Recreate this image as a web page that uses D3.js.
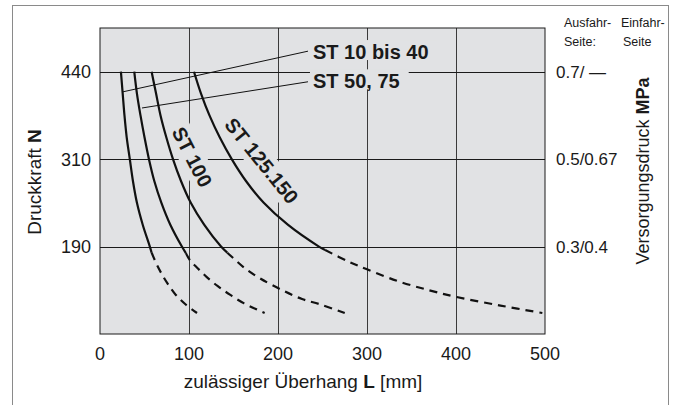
<!DOCTYPE html>
<html><head><meta charset="utf-8">
<script src="https://cdn.jsdelivr.net/npm/d3@7"></script>
<style>
html,body{margin:0;padding:0;background:#fff;}
text{font-family:"Liberation Sans",Arial,Helvetica,sans-serif;fill:#1a1a1a;}
</style></head>
<body><svg id="c" width="677" height="405"></svg>
<script>
// ---- data ----
const xTicks = [0, 100, 200, 300, 400, 500];
const pressureLevels = [0.7, 0.5, 0.3];           // Ausfahr-Seite MPa (grid rows)
const forceLabels = ["440", "310", "190"];         // Druckkraft N
const pressureLabels = ["0.7/ \u2014", "0.5/0.67", "0.3/0.4"];
const seriesNames = ["ST 10 bis 40", "ST 50, 75", "ST 100", "ST 125.150"];

// [L mm, pressure MPa]
const st10_40_solid  = [[23.5,0.7],[25.5,0.65],[27.5,0.6],[30,0.55],[33.5,0.5],[37,0.45],[41.5,0.4],[48,0.35],[56,0.3],[58,0.286]];
const st10_40_dashed = [[58,0.286],[64,0.258],[70,0.235],[76,0.215],[85,0.19],[96,0.168],[109,0.148]];
const st50_75_solid  = [[38.5,0.7],[41.5,0.65],[45.5,0.6],[50,0.55],[55,0.5],[61,0.45],[69,0.4],[79,0.35],[92,0.3],[96.5,0.285]];
const st50_75_dashed = [[96.5,0.285],[101,0.269],[110,0.25],[120,0.23],[132,0.21],[146,0.19],[162,0.17],[185,0.148]];
const st100_solid    = [[58,0.7],[63,0.65],[68,0.6],[74.5,0.55],[82,0.5],[91,0.45],[102,0.4],[117,0.35],[136,0.3],[143,0.286]];
const st100_dashed   = [[143,0.286],[149,0.275],[163,0.25],[180,0.227],[205,0.2],[227,0.18],[247,0.168],[275,0.148]];
const st125_solid    = [[105.6,0.7],[113.5,0.65],[123,0.6],[134.5,0.55],[148,0.5],[164,0.45],[184,0.4],[211,0.35],[246,0.3],[253,0.292]];
const st125_dashed   = [[253,0.292],[280,0.265],[300,0.248],[336,0.22],[370,0.2],[400,0.185],[450,0.165],[497,0.148]];

// annotation leaders [from, to] and label anchors, in data units
const leader10_40 = [[25.8,0.654],[233.7,0.747]];
const leader50_75 = [[47.2,0.617],[233.7,0.677]];
const sideLabelPos = [[239.3,0.729],[239.3,0.662]];
const curveLabelPos = [[103.4,0.505,63],[181.5,0.496,51]];

// ---- chart ----
const svg = d3.select("#c");
const x = d3.scaleLinear().domain([0,500]).range([100,545]);
const y = d3.scaleLinear().domain([0.1,0.8]).range([334,28]);
const BG = "#e1e2e4";

svg.append("rect").attr("x",12.5).attr("y",5.5).attr("width",656).attr("height",430)
  .attr("fill","#fff").attr("stroke","#8a8a8a").attr("stroke-width",1);

svg.append("rect").attr("x",x(0)).attr("y",y(0.8)).attr("width",x(500)-x(0)).attr("height",y(0.1)-y(0.8))
  .attr("fill",BG);

// grid
svg.append("g").selectAll("line").data(xTicks.slice(1,-1)).join("line")
  .attr("x1",d=>Math.round(x(d))+0.5).attr("x2",d=>Math.round(x(d))+0.5)
  .attr("y1",y(0.8)).attr("y2",y(0.1)).attr("stroke","#3a3a3a").attr("stroke-width",1);
svg.append("g").selectAll("line").data(pressureLevels).join("line")
  .attr("x1",x(0)).attr("x2",x(500))
  .attr("y1",d=>Math.round(y(d))+0.5).attr("y2",d=>Math.round(y(d))+0.5)
  .attr("stroke","#1a1a1a").attr("stroke-width",1);

// label knock-out layer and text layer
const knock = svg.append("g");
const labels = svg.append("g");

// plot border
svg.append("rect").attr("x",x(0)).attr("y",y(0.8)).attr("width",x(500)-x(0)).attr("height",y(0.1)-y(0.8))
  .attr("fill","none").attr("stroke","#1a1a1a").attr("stroke-width",1);

// curves
const line = d3.line().x(d=>x(d[0])).y(d=>y(d[1])).curve(d3.curveCatmullRom.alpha(0.5));
const solids = [st10_40_solid, st50_75_solid, st100_solid, st125_solid];
const dashes = [st10_40_dashed, st50_75_dashed, st100_dashed, st125_dashed];
const cg = svg.append("g");
cg.selectAll("path.s").data(solids).join("path").attr("class","s")
  .attr("d",line).attr("fill","none").attr("stroke","#111").attr("stroke-width",2.2);
cg.selectAll("path.d").data(dashes).join("path").attr("class","d")
  .attr("d",line).attr("fill","none").attr("stroke","#111").attr("stroke-width",2.2)
  .attr("stroke-dasharray","8,6");

// leaders
svg.append("g").selectAll("line").data([leader10_40, leader50_75]).join("line")
  .attr("x1",d=>x(d[0][0])).attr("y1",d=>y(d[0][1]))
  .attr("x2",d=>x(d[1][0])).attr("y2",d=>y(d[1][1]))
  .attr("stroke","#111").attr("stroke-width",1);

// side labels (ST 10 bis 40, ST 50, 75)
sideLabelPos.forEach((p,i)=>{
  const t = labels.append("text").attr("x",x(p[0])).attr("y",y(p[1]))
    .attr("font-size",20).attr("font-weight","bold").text(seriesNames[i]);
  const b = t.node().getBBox();
  knock.append("rect").attr("x",b.x-3).attr("y",b.y-1).attr("width",b.width+12).attr("height",b.height-2)
    .attr("fill",BG);
});
// curve labels (ST 100, ST 125.150)
curveLabelPos.forEach((p,i)=>{
  const tr = `translate(${x(p[0])},${y(p[1])}) rotate(${p[2]})`;
  const t = labels.append("text").attr("transform",tr).attr("text-anchor","middle").attr("dy","0.35em")
    .attr("font-size",20).attr("font-weight","bold").text(seriesNames[i+2]);
  const b = t.node().getBBox();
  knock.append("rect").attr("transform",tr).attr("x",b.x-6).attr("y",b.y-2).attr("width",b.width+12).attr("height",b.height+4)
    .attr("fill",BG);
});

// x tick labels
svg.append("g").selectAll("text").data(xTicks).join("text")
  .attr("x",d=>x(d)).attr("y",360).attr("text-anchor","middle").attr("font-size",18).text(d=>d);
// left tick labels
svg.append("g").selectAll("text").data(pressureLevels).join("text")
  .attr("x",91).attr("y",d=>y(d)).attr("dy","0.36em").attr("text-anchor","end").attr("font-size",18)
  .text((d,i)=>forceLabels[i]);
// right tick labels
svg.append("g").selectAll("text").data(pressureLevels).join("text")
  .attr("x",556).attr("y",d=>y(d)).attr("dy","0.36em").attr("font-size",17)
  .text((d,i)=>pressureLabels[i]);

// axis titles
const xt = svg.append("text").attr("x",303).attr("y",388).attr("text-anchor","middle").attr("font-size",19);
xt.append("tspan").text("zul\u00e4ssiger \u00dcberhang ");
xt.append("tspan").attr("font-weight","bold").text("L");
xt.append("tspan").text(" [mm]");

const yt = svg.append("text").attr("transform","translate(41,182) rotate(-90)").attr("text-anchor","middle").attr("font-size",19);
yt.append("tspan").text("Druckkraft ");
yt.append("tspan").attr("font-weight","bold").text("N");

const yt2 = svg.append("text").attr("transform","translate(649,171) rotate(-90)").attr("text-anchor","middle").attr("font-size",18);
yt2.append("tspan").text("Versorgungsdruck ");
yt2.append("tspan").attr("font-weight","bold").text("MPa");

// header
const hdr = [["Ausfahr-","Seite:",564],["Einfahr-","Seite",621]];
hdr.forEach(h=>{
  svg.append("text").attr("x",h[2]).attr("y",27).attr("font-size",12.5).text(h[0]);
  svg.append("text").attr("x",h[2]+(h[1]==="Seite"?2:0)).attr("y",46).attr("font-size",12.5).text(h[1]);
});
</script></body></html>
